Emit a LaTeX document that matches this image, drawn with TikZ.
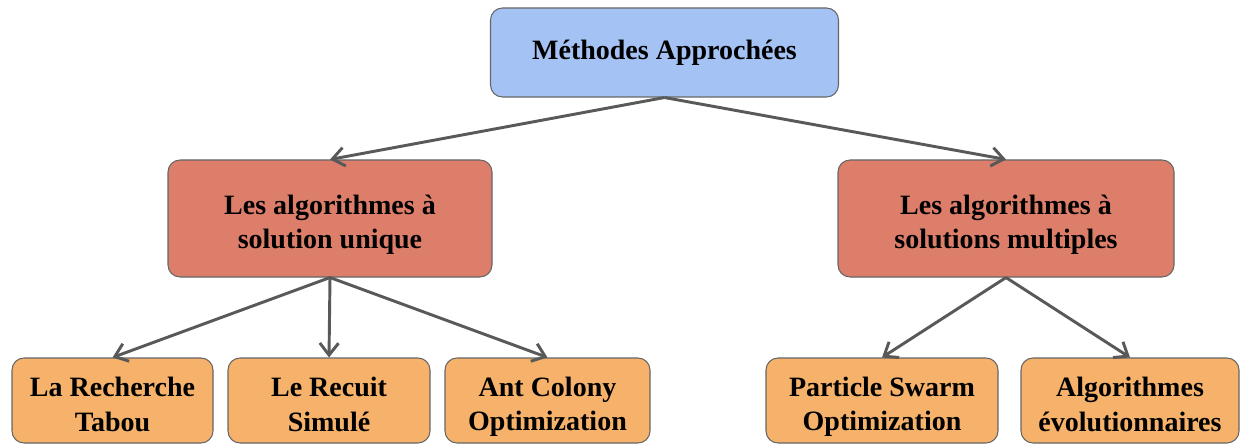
\documentclass[tikz,border=0pt]{standalone}
\usepackage{fontspec}
\setmainfont{Liberation Serif}
\usepackage{xcolor}
\usepackage{tikz}
\usetikzlibrary{arrows.meta,positioning}
\definecolor{topblue}{HTML}{A4C2F4}
\definecolor{midred}{HTML}{DD7E6B}
\definecolor{leaforange}{HTML}{F6B26B}
\definecolor{edgegray}{HTML}{666666}
\definecolor{arrowgray}{HTML}{595959}
% taller first line pushes the text block down a bit
\newcommand{\up}{\rule[-3.6pt]{0pt}{27.6pt}}
\newcommand{\dn}{\rule[-3.6pt]{0pt}{3.6pt}}

\begin{document}
\begin{tikzpicture}[
  x=0.75pt, y=-0.75pt,
  box/.style={draw=edgegray, line width=0.8pt, rounded corners=9pt, align=center,
    font=\bfseries\fontsize{21}{26}\selectfont, inner sep=2pt},
  root/.style={box, fill=topblue, minimum width=261pt, minimum height=66.75pt},
  family/.style={box, fill=midred, minimum height=87.75pt},
  leaf/.style={box, fill=leaforange, minimum height=63.75pt},
  arrow/.style={-{Straight Barb[length=9pt, width=14pt]}, line width=2.2pt, arrowgray}
]
\useasboundingbox (0,0) rectangle (1241,445);

\node[root] (meth) at (664.5,52.5) {Méthodes Approchées};

\node[family, minimum width=243pt] (uniq) at (330,218.5) {\up Les algorithmes à\\solution unique\dn};
\node[family, minimum width=252pt] (mult) at (1006,218.5) {\up Les algorithmes à\\solutions multiples\dn};

\node[leaf, minimum width=150.75pt] (tabou) at (112.5,400.5) {\up La Recherche\\Tabou\dn};
\node[leaf, minimum width=151.5pt] (recuit) at (329,400.5) {\up Le Recuit\\Simulé\dn};
\node[leaf, minimum width=153.75pt] (aco) at (547.5,400.5) {\up Ant Colony\\Optimization\dn};
\node[leaf, minimum width=174pt] (pso) at (882,400.5) {\up Particle Swarm\\Optimization\dn};
\node[leaf, minimum width=163.5pt] (evol) at (1130,400.5) {\up Algorithmes\\évolutionnaires\dn};

\draw[arrow] (meth.south) -- (uniq.north);
\draw[arrow] (meth.south) -- (mult.north);
\draw[arrow] (uniq.south) -- (tabou.north);
\draw[arrow] (uniq.south) -- (recuit.north);
\draw[arrow] (uniq.south) -- (aco.north);
\draw[arrow] (mult.south) -- (pso.north);
\draw[arrow] (mult.south) -- (evol.north);
\end{tikzpicture}
\end{document}
